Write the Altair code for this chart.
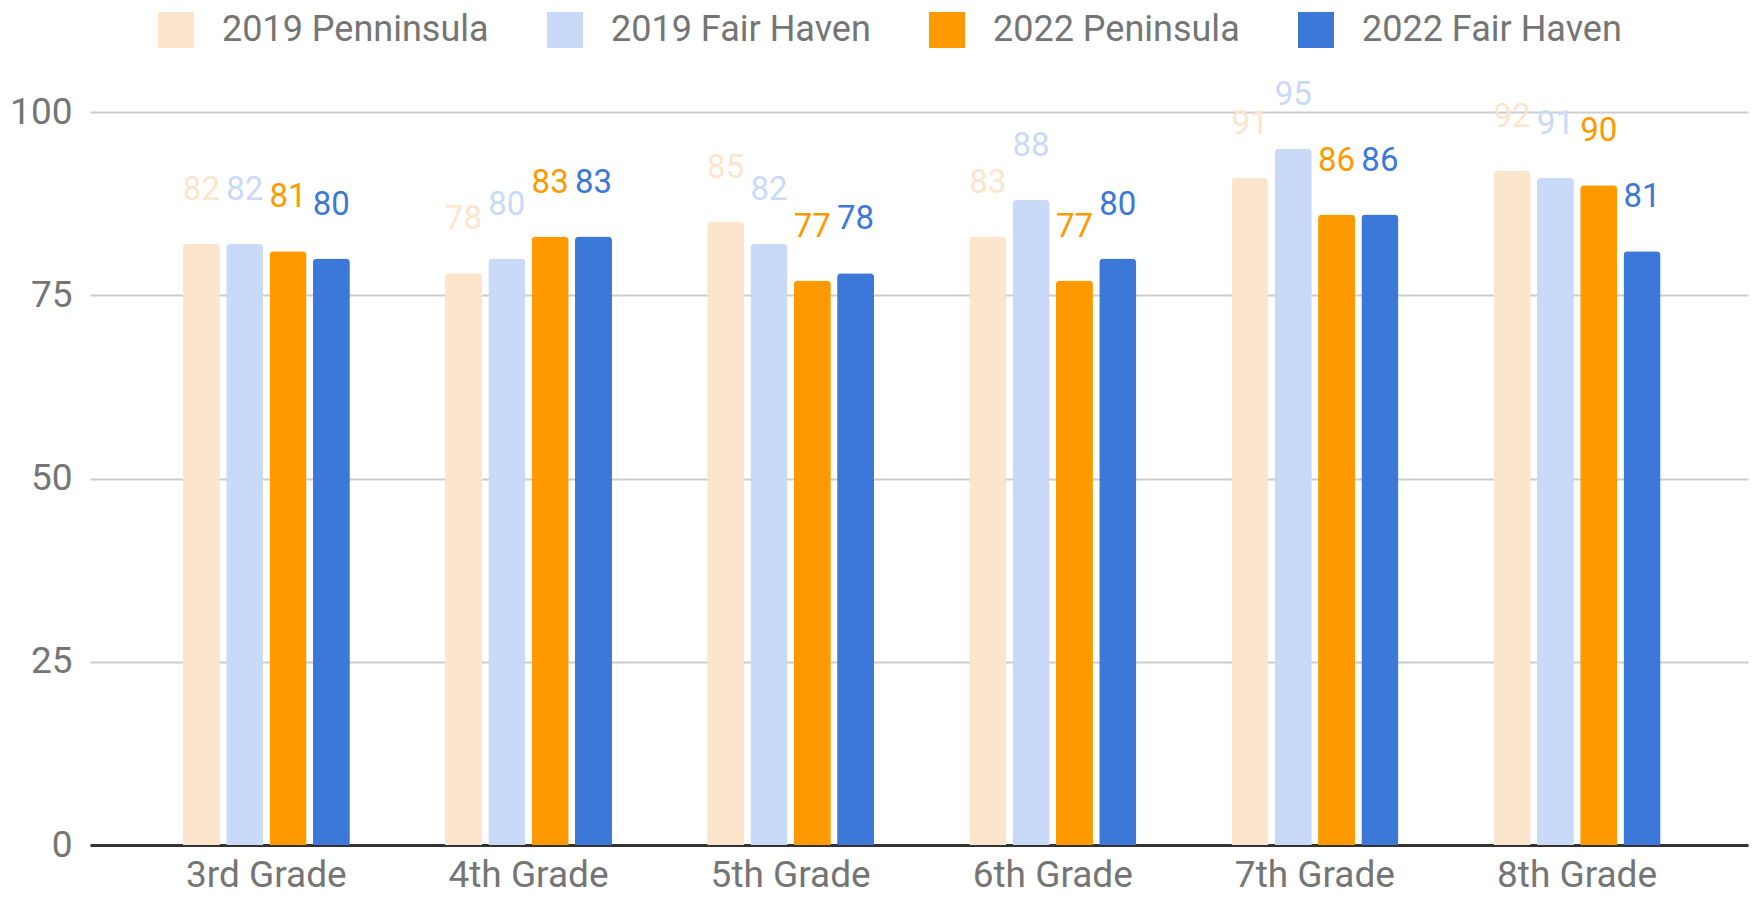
import altair as alt
import pandas as pd

grades = ["3rd Grade", "4th Grade", "5th Grade", "6th Grade", "7th Grade", "8th Grade"]
series = ["2019 Penninsula", "2019 Fair Haven", "2022 Peninsula", "2022 Fair Haven"]
colors = ["#fce5cd", "#c9daf8", "#ff9900", "#3c78d8"]

pen_2019 = [82, 78, 85, 83, 91, 92]
fh_2019 = [82, 80, 82, 88, 95, 91]
pen_2022 = [81, 83, 77, 77, 86, 90]
fh_2022 = [80, 83, 78, 80, 86, 81]

values = [pen_2019, fh_2019, pen_2022, fh_2022]
rows = []
for s, vals in zip(series, values):
    for g, v in zip(grades, vals):
        rows.append({"grade": g, "series": s, "value": v})
df = pd.DataFrame(rows)

FONT = "Roboto"
GRAY = "#757575"

x_enc = alt.X(
    "grade:N",
    sort=grades,
    scale=alt.Scale(paddingInner=0.363, paddingOuter=0.344, align=0.515),
    axis=alt.Axis(
        title=None,
        labelAngle=0,
        labelFontSize=37,
        labelFont=FONT,
        labelColor=GRAY,
        labelBaseline="alphabetic",
        labelPadding=41,
        ticks=False,
        tickSize=0,
        domain=True,
        domainColor="#333333",
        domainWidth=3,
        grid=False,
    ),
)
xoff_enc = alt.XOffset(
    "series:N",
    sort=series,
    scale=alt.Scale(domain=series, paddingInner=0.145, paddingOuter=0),
)
y_enc = alt.Y(
    "value:Q",
    scale=alt.Scale(domain=[0, 100], nice=False),
    axis=alt.Axis(
        title=None,
        values=[0, 25, 50, 75, 100],
        labelFontSize=37,
        labelFont=FONT,
        labelColor=GRAY,
        labelPadding=18,
        ticks=False,
        tickSize=0,
        domain=False,
        grid=True,
        gridColor="#cccccc",
        gridWidth=2,
    ),
)
legend = alt.Legend(
    title=None,
    orient="none",
    legendX=68,
    legendY=-100,
    direction="horizontal",
    symbolType="square",
    symbolSize=1296,
    symbolStrokeWidth=0,
    symbolOpacity=1,
    labelFontSize=36,
    labelFont=FONT,
    labelColor=GRAY,
    labelOffset=28,
    labelLimit=500,
    columnPadding=58,
    padding=0,
)
color_enc = alt.Color(
    "series:N",
    sort=series,
    scale=alt.Scale(domain=series, range=colors),
    legend=legend,
)

base = alt.Chart(df).encode(x=x_enc, xOffset=xoff_enc, y=y_enc, color=color_enc)

bars = base.mark_bar(cornerRadiusTopLeft=4, cornerRadiusTopRight=4)
labels = base.mark_text(
    baseline="alphabetic", align="center", dy=-44, fontSize=33, font=FONT
).encode(text=alt.Text("value:Q"))

chart = (
    alt.layer(bars, labels)
    .properties(
        width=1658,
        height=733,
        padding={"left": 82, "top": 104, "right": 7, "bottom": 50},
        autosize=alt.AutoSizeParams(type="none"),
        background="white",
    )
    .configure_view(stroke=None)
)

chart.save("out.html", embed_options={"renderer": "svg", "actions": False})
